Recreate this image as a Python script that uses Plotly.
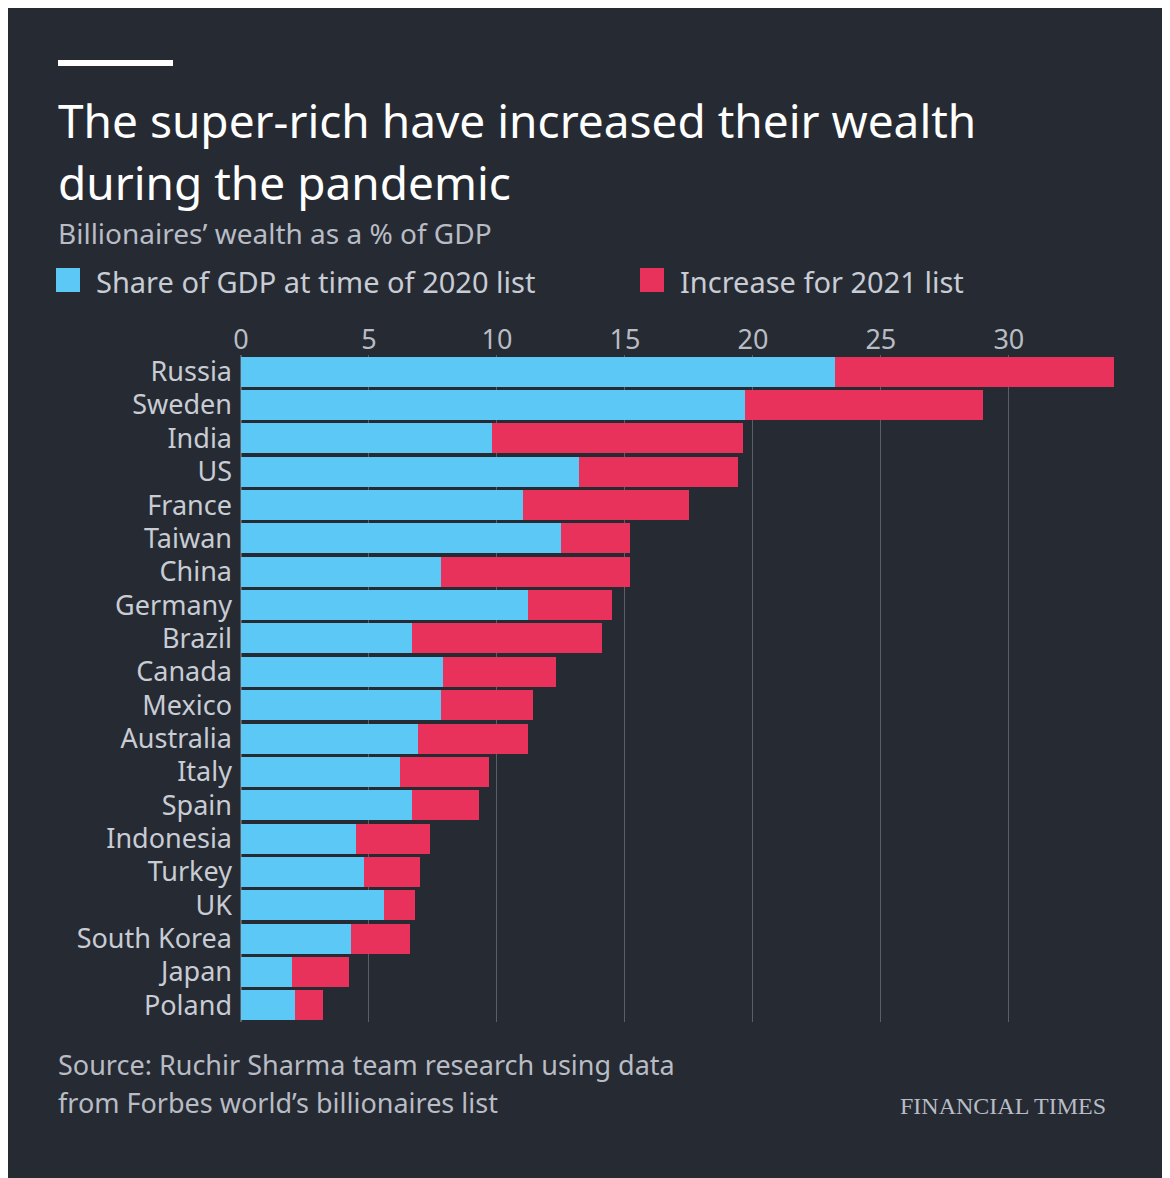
import plotly.graph_objects as go

countries = ["Russia", "Sweden", "India", "US", "France", "Taiwan", "China", "Germany",
             "Brazil", "Canada", "Mexico", "Australia", "Italy", "Spain", "Indonesia",
             "Turkey", "UK", "South Korea", "Japan", "Poland"]
share_2020 = [23.2, 19.7, 9.8, 13.2, 11.0, 12.5, 7.8, 11.2, 6.7, 7.9, 7.8, 6.9, 6.2, 6.7,
              4.5, 4.8, 5.6, 4.3, 2.0, 2.1]
total_2021 = [34.1, 29.0, 19.6, 19.4, 17.5, 15.2, 15.2, 14.5, 14.1, 12.3, 11.4, 11.2, 9.7,
              9.3, 7.4, 7.0, 6.8, 6.6, 4.2, 3.2]
increase_2021 = [round(t - s, 2) for t, s in zip(total_2021, share_2020)]

BG = "#262a33"
FONT = "Noto Sans"
OFF = 8  # page body margin
W, H = 1170 - OFF, 1178 - OFF
L, R, T, B = 241 - OFF, 46, 355 - OFF, 156
pw, ph = W - L - R, H - T - B

def px(x):
    return (x - OFF - L) / pw

def py(y):
    return (H - B - (y - OFF)) / ph

fig = go.Figure()
fig.add_trace(go.Bar(y=countries, x=share_2020, orientation="h", name="Share of GDP at time of 2020 list",
                     marker=dict(color="#5bc8f5", line=dict(width=0))))
fig.add_trace(go.Bar(y=countries, x=increase_2021, orientation="h", name="Increase for 2021 list",
                     marker=dict(color="#e8315b", line=dict(width=0))))

fig.update_layout(
    width=W, height=H, barmode="stack", bargap=0.1,
    paper_bgcolor=BG, plot_bgcolor=BG,
    margin=dict(l=L, r=R, t=T, b=B),
    font=dict(family=FONT, color="#b8bcc4", size=27),
    showlegend=False,
    xaxis=dict(side="top", range=[0, 34.5], tickvals=[0, 5, 10, 15, 20, 25, 30],
               showgrid=True, gridcolor="#5a5e66", gridwidth=1, zeroline=True,
               zerolinecolor="#5a5e66", ticks="", tickfont=dict(size=27, color="#b8bcc4")),
    yaxis=dict(autorange="reversed", ticks="", ticklabelstandoff=8,
               tickmode="array", tickvals=countries, ticktext=countries,
               tickfont=dict(size=27, color="#c8ccd4")),
)

fig.add_shape(type="line", xref="paper", yref="paper", x0=px(58), x1=px(173), y0=py(63), y1=py(63),
              line=dict(color="white", width=6))

texts = [
    (56, 120, "The super-rich have increased their wealth", 46, "#ffffff"),
    (56, 182, "during the pandemic", 46, "#ffffff"),
    (56, 233, "Billionaires’ wealth as a % of GDP", 28, "#b8bcc4"),
    (94, 281, "Share of GDP at time of 2020 list", 29, "#c8ccd4"),
    (678, 281, "Increase for 2021 list", 29, "#c8ccd4"),
    (56, 1064, "Source: Ruchir Sharma team research using data", 27, "#b8bcc4"),
    (56, 1102, "from Forbes world’s billionaires list", 27, "#b8bcc4"),
]
for x, y, t, s, c in texts:
    fig.add_annotation(xref="paper", yref="paper", x=px(x), y=py(y), text=t, showarrow=False,
                       xanchor="left", yanchor="middle", font=dict(size=s, color=c, family=FONT))
fig.add_annotation(xref="paper", yref="paper", x=px(1108), y=py(1106), text="FINANCIAL TIMES",
                   showarrow=False, xanchor="right", yanchor="middle",
                   font=dict(size=24, color="#b8bcc4", family="Liberation Serif"))

for x0, c in [(56, "#5bc8f5"), (640, "#e8315b")]:
    fig.add_shape(type="rect", xref="paper", yref="paper", x0=px(x0), x1=px(x0 + 24),
                  y0=py(292), y1=py(268), fillcolor=c, line=dict(width=0))

fig.write_html("out.html")
